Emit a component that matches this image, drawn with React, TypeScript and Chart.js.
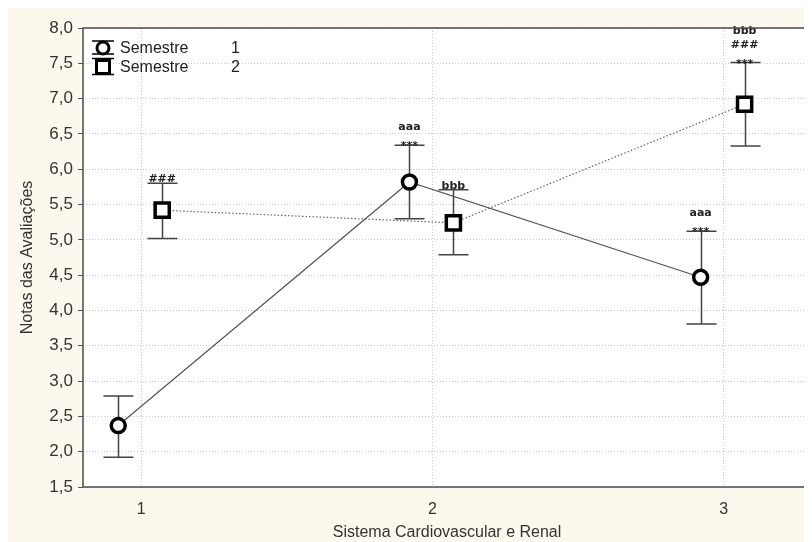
import React, { useEffect, useRef } from 'react';
import { Chart, registerables } from 'chart.js';

Chart.register(...registerables);

// ---- data ----
const categories = [1, 2, 3];
const xTickLabels = ['1', '2', '3'];
const yMin = 1.5;
const yMax = 8.0;
const yStep = 0.5;
const xTitle = 'Sistema Cardiovascular e Renal';
const yTitle = 'Notas das Avaliações';
const legendNames = ['Semestre', 'Semestre'];
const legendNumbers = ['1', '2'];

const s1Mean = [2.37, 5.82, 4.47];
const s1Upper = [2.79, 6.34, 5.12];
const s1Lower = [1.92, 5.3, 3.81];
const s1Marks = [[], ['***', 'aaa'], ['***', 'aaa']];

const s2Mean = [5.42, 5.24, 6.92];
const s2Upper = [5.8, 5.71, 7.51];
const s2Lower = [5.02, 4.79, 6.33];
const s2Marks = [['###'], ['bbb'], ['***', '###', 'bbb']];

// ---- style ----
const CREAM = '#fdf8ee';
const FRAME = '#4a4a4a';
const BAR = '#444';
const S1_OFFSET = -0.079;
const S2_OFFSET = 0.072;
const FONT = '"Liberation Sans", Arial, sans-serif';

const series = [
  { mean: s1Mean, upper: s1Upper, lower: s1Lower, marks: s1Marks, offset: S1_OFFSET },
  { mean: s2Mean, upper: s2Upper, lower: s2Lower, marks: s2Marks, offset: S2_OFFSET },
];

const decorPlugin = {
  id: 'decor',
  beforeDraw(chart: any) {
    const { ctx, chartArea: a } = chart;
    ctx.save();
    ctx.fillStyle = CREAM;
    ctx.fillRect(0, 0, chart.width, chart.height);
    ctx.fillStyle = '#ffffff';
    ctx.fillRect(a.left, a.top, a.right - a.left, a.bottom - a.top);
    ctx.restore();
  },
  beforeDatasetsDraw(chart: any) {
    const { ctx } = chart;
    const xs = chart.scales.x;
    const ys = chart.scales.y;
    ctx.save();
    ctx.strokeStyle = BAR;
    ctx.lineWidth = 1.5;
    ctx.setLineDash([]);
    series.forEach((s) => {
      categories.forEach((c, i) => {
        const px = Math.round(xs.getPixelForValue(c + s.offset)) + 0.5;
        const pu = ys.getPixelForValue(s.upper[i]);
        const pl = ys.getPixelForValue(s.lower[i]);
        ctx.beginPath();
        ctx.moveTo(px, pu);
        ctx.lineTo(px, pl);
        ctx.moveTo(px - 15, pu);
        ctx.lineTo(px + 15, pu);
        ctx.moveTo(px - 15, pl);
        ctx.lineTo(px + 15, pl);
        ctx.stroke();
      });
    });
    ctx.restore();
  },
  afterDatasetsDraw(chart: any) {
    const { ctx, chartArea: a } = chart;
    const xs = chart.scales.x;
    const ys = chart.scales.y;
    ctx.save();
    // annotations
    ctx.fillStyle = '#222';
    ctx.font = 'bold 11px "DejaVu Sans", sans-serif';
    ctx.textAlign = 'center';
    ctx.textBaseline = 'alphabetic';
    series.forEach((s) => {
      categories.forEach((c, i) => {
        const px = xs.getPixelForValue(c + s.offset);
        const pu = ys.getPixelForValue(s.upper[i]);
        s.marks[i].forEach((m: string, k: number) => {
          const off = m === '***' ? 4 : -1;
          ctx.fillText(m, px, pu + off - k * 14);
        });
      });
    });
    // frame
    ctx.strokeStyle = FRAME;
    ctx.lineWidth = 1.5;
    ctx.strokeRect(a.left, a.top, a.right - a.left, a.bottom - a.top);

    // legend
    const lx = a.left + 20;
    const rows = [a.top + 20, a.top + 39];
    ctx.strokeStyle = '#000';
    ctx.lineWidth = 1.3;
    ctx.beginPath();
    ctx.moveTo(lx - 11, rows[0] - 7); ctx.lineTo(lx + 11, rows[0] - 7);
    ctx.moveTo(lx - 11, rows[0] + 6); ctx.lineTo(lx + 11, rows[0] + 6);
    ctx.moveTo(lx, rows[0] - 7); ctx.lineTo(lx, rows[0] + 6);
    ctx.stroke();
    ctx.fillStyle = '#fff';
    ctx.lineWidth = 3;
    ctx.beginPath();
    ctx.arc(lx, rows[0], 6, 0, Math.PI * 2);
    ctx.fill();
    ctx.stroke();
    ctx.lineWidth = 1.3;
    ctx.beginPath();
    ctx.moveTo(lx - 11, rows[1] - 8.5); ctx.lineTo(lx + 11, rows[1] - 8.5);
    ctx.moveTo(lx - 11, rows[1] + 7.5); ctx.lineTo(lx + 11, rows[1] + 7.5);
    ctx.moveTo(lx, rows[1] - 8.5); ctx.lineTo(lx, rows[1] + 7.5);
    ctx.stroke();
    ctx.lineWidth = 3;
    ctx.beginPath();
    ctx.rect(lx - 6.5, rows[1] - 6.5, 13, 13);
    ctx.fill();
    ctx.stroke();
    ctx.fillStyle = '#222';
    ctx.font = '16px ' + FONT;
    ctx.textAlign = 'left';
    ctx.textBaseline = 'middle';
    rows.forEach((ry, i) => {
      ctx.fillText(legendNames[i], lx + 17, ry + 1);
      ctx.fillText(legendNumbers[i], lx + 128, ry + 1);
    });
    ctx.restore();
  },
};

export default function App() {
  const ref = useRef<HTMLCanvasElement>(null);
  useEffect(() => {
    if (!ref.current) return;
    document.documentElement.style.overflow = 'hidden';
    const gridCommon = {
      color: '#c8c8c8',
      lineWidth: 1,
      drawTicks: false,
    };
    const chart = new Chart(ref.current, {
      type: 'scatter',
      data: {
        datasets: [
          {
            label: legendNames[0] + ' ' + legendNumbers[0],
            data: categories.map((c, i) => ({ x: c + S1_OFFSET, y: s1Mean[i] })),
            showLine: true,
            borderColor: '#555',
            borderWidth: 1.2,
            pointStyle: 'circle',
            pointRadius: 7,
            pointBorderWidth: 3.5,
            pointBorderColor: '#000',
            pointBackgroundColor: '#fff',
          },
          {
            label: legendNames[1] + ' ' + legendNumbers[1],
            data: categories.map((c, i) => ({ x: c + S2_OFFSET, y: s2Mean[i] })),
            showLine: true,
            borderColor: '#666',
            borderWidth: 1.2,
            borderDash: [1.5, 2],
            pointStyle: 'rect',
            pointRadius: 10,
            pointBorderWidth: 3.5,
            pointBorderColor: '#000',
            pointBackgroundColor: '#fff',
          },
        ],
      },
      options: {
        animation: false,
        responsive: false,
        devicePixelRatio: 1,
        layout: { autoPadding: false, padding: { top: 20, right: 1, left: 0, bottom: 0 } },
        plugins: { legend: { display: false }, tooltip: { enabled: false } },
        scales: {
          x: {
            type: 'linear',
            min: 0.8,
            max: 3.3,
            afterBuildTicks: (scale: any) => {
              scale.ticks = categories.map((v) => ({ value: v }));
            },
            afterFit: (scale: any) => {
              scale.height = 55;
              scale.paddingLeft = 0;
              scale.paddingRight = 0;
            },
            ticks: {
              padding: 13,
              color: '#333',
              font: { family: FONT, size: 16 },
              callback: (v: any) => {
                const idx = categories.indexOf(Number(v));
                return idx >= 0 ? xTickLabels[idx] : '';
              },
            },
            grid: { ...gridCommon },
            border: { display: false, dash: [1, 2] },
            title: {
              display: true,
              text: xTitle,
              color: '#333',
              font: { family: FONT, size: 16 },
              padding: { top: 0, bottom: 0 },
            },
          },
          y: {
            type: 'linear',
            min: yMin,
            max: yMax,
            afterFit: (scale: any) => {
              scale.width = 75;
              scale.paddingTop = 0;
              scale.paddingBottom = 0;
            },
            ticks: {
              stepSize: yStep,
              padding: 5,
              color: '#333',
              font: { family: FONT, size: 17 },
              callback: (v: any) => Number(v).toFixed(1).replace('.', ','),
            },
            grid: { ...gridCommon, drawTicks: true, tickLength: 5, tickColor: '#555' },
            border: { display: false, dash: [1, 2] },
            title: {
              display: true,
              text: yTitle,
              color: '#333',
              font: { family: FONT, size: 16 },
              padding: { top: 10, bottom: 0 },
            },
          },
        },
      },
      plugins: [decorPlugin],
    } as any);
    return () => chart.destroy();
  }, []);
  return (
    <div style={{ width: 804, height: 534 }}>
      <canvas ref={ref} width={804} height={534} style={{ display: 'block' }} />
    </div>
  );
}
